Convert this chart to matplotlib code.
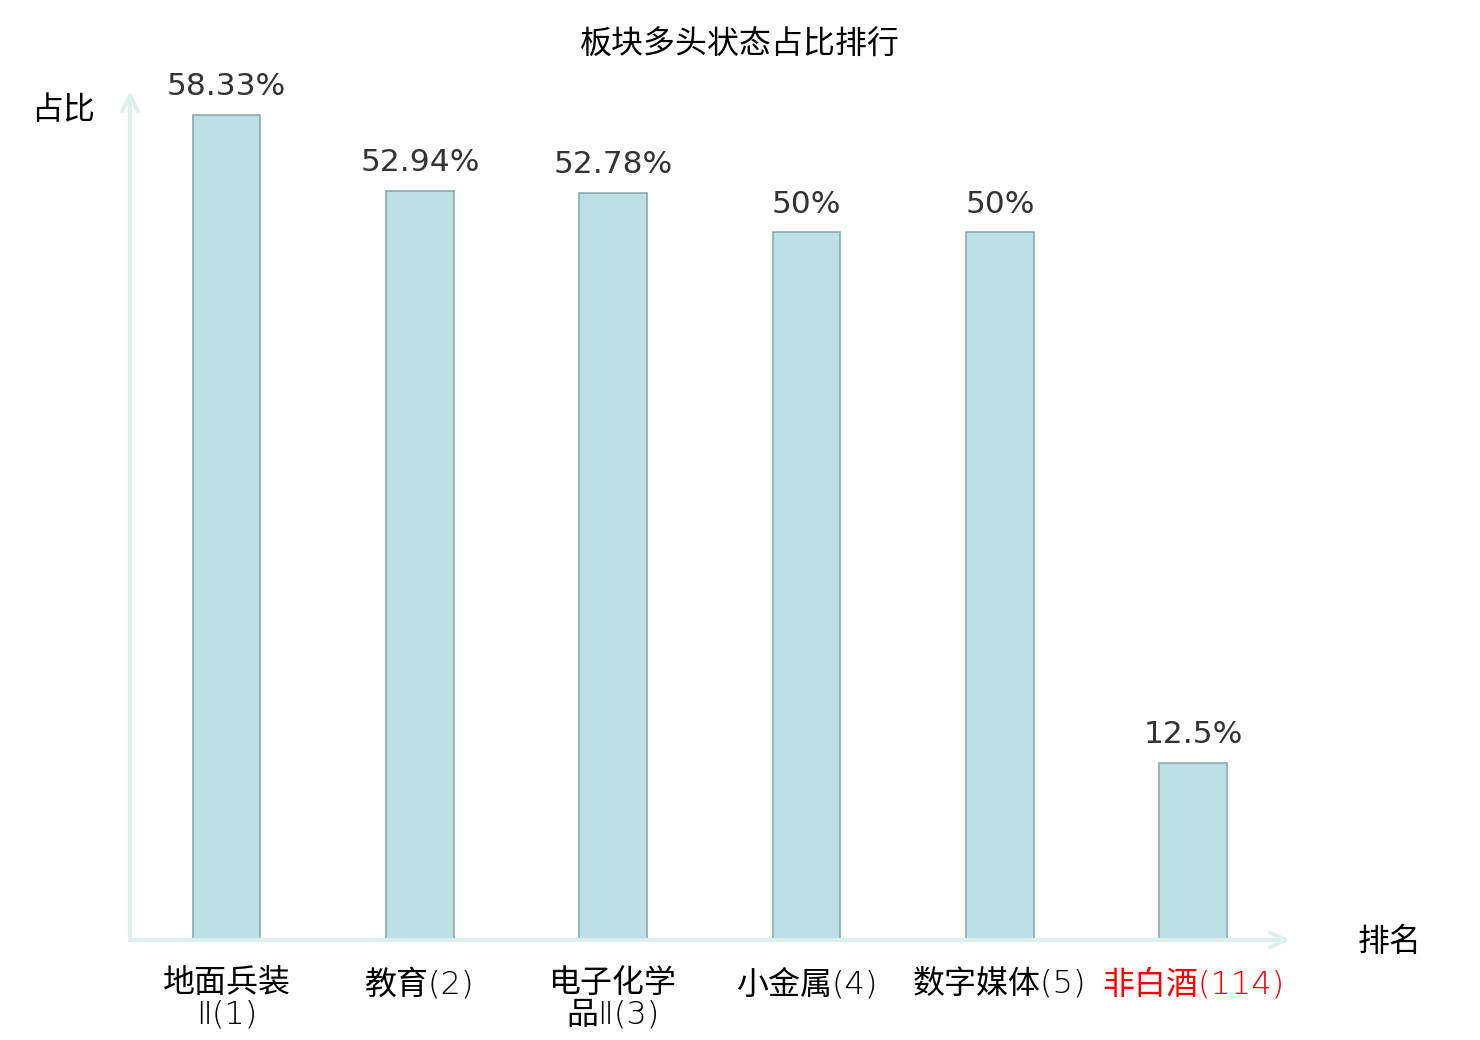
import matplotlib
matplotlib.use('Agg')
import matplotlib.pyplot as plt

plt.rcParams['font.family'] = ['Noto Sans CJK SC', 'DejaVu Sans']

# data
names = ['地面兵装\nⅡ(1)', '教育(2)', '电子化学\n品Ⅱ(3)', '小金属(4)', '数字媒体(5)', '非白酒(114)']
ratios = [58.33, 52.94, 52.78, 50, 50, 12.5]
ratio_text = ['58.33%', '52.94%', '52.78%', '50%', '50%', '12.5%']
label_colors = ['#000000', '#000000', '#000000', '#000000', '#000000', '#ff0000']

axis_col = '#dcf1ee'

fig = plt.figure(figsize=(14.8, 10.4), dpi=100)
ax = fig.add_axes([0.0878, 0.0962, 0.7838, 0.8163])

x = list(range(len(names)))
ax.bar(x, ratios, width=0.35, color='#bce0e3', edgecolor='#8aacad', linewidth=1.2, zorder=3)

for xi, v, t in zip(x, ratios, ratio_text):
    ax.annotate(t, (xi, v), xytext=(0, 10), textcoords='offset points',
                ha='center', va='bottom', fontsize=22.5, color='#333333',
                family='DejaVu Sans')

ax.set_xlim(-0.5, 5.5)
ax.set_ylim(0, 60)

for s in ax.spines.values():
    s.set_visible(False)
ax.set_yticks([])
ax.set_xticks(x)
ax.set_xticklabels(names, fontsize=23, linespacing=1.08,
                   family=['DejaVu Sans', 'Noto Sans CJK SC'], fontweight='light')
ax.tick_params(axis='x', length=0, pad=20)
for lab, c in zip(ax.get_xticklabels(), label_colors):
    lab.set_color(c)

# axis arrows
arrow = dict(arrowstyle='->,head_length=1.1,head_width=0.55',
             color=axis_col, lw=3, shrinkA=0, shrinkB=0)
ax.annotate('', xy=(0, 1.0), xytext=(0, 0), xycoords='axes fraction',
            arrowprops=arrow, annotation_clip=False)
ax.annotate('', xy=(1.0, 0), xytext=(0, 0), xycoords='axes fraction',
            arrowprops=arrow, annotation_clip=False)

fig.text(63 / 1480, 1 - 110 / 1040, '占比', fontsize=23, ha='center', va='center')
fig.text(1390 / 1480, 1 - 942 / 1040, '排名', fontsize=23, ha='center', va='center')
fig.text(740 / 1480, 1 - 45 / 1040, '板块多头状态占比排行', fontsize=23, ha='center', va='center')

fig.savefig('out.png', dpi=100, facecolor='white')
